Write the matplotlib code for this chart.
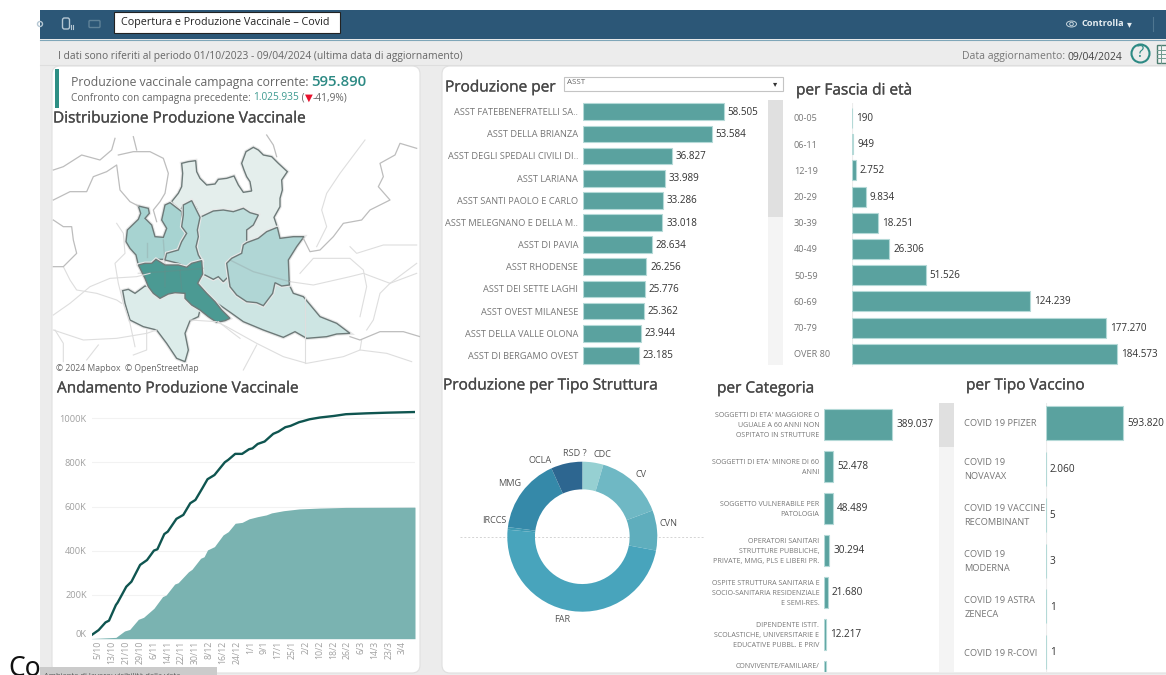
import matplotlib
matplotlib.use("Agg")
import matplotlib.pyplot as plt
import matplotlib.patheffects as pe
from matplotlib.patches import Rectangle, FancyBboxPatch, Polygon, Circle, Ellipse
from matplotlib.transforms import Bbox

plt.rcParams['font.family'] = ['Open Sans', 'DejaVu Sans']

# ---------------- data ----------------
asst_names = ["ASST FATEBENEFRATELLI SA..", "ASST DELLA BRIANZA", "ASST DEGLI SPEDALI CIVILI DI..",
              "ASST LARIANA", "ASST SANTI PAOLO E CARLO", "ASST MELEGNANO E DELLA M..",
              "ASST DI PAVIA", "ASST RHODENSE", "ASST DEI SETTE LAGHI",
              "ASST OVEST MILANESE", "ASST DELLA VALLE OLONA", "ASST DI BERGAMO OVEST"]
asst_values = [58505, 53584, 36827, 33989, 33286, 33018, 28634, 26256, 25776, 25362, 23944, 23185]

age_names = ["00-05", "06-11", "12-19", "20-29", "30-39", "40-49", "50-59", "60-69", "70-79", "OVER 80"]
age_values = [190, 949, 2752, 9834, 18251, 26306, 51526, 124239, 177270, 184573]

cat_names = ["SOGGETTI DI ETA' MAGGIORE O\nUGUALE A 60 ANNI NON\nOSPITATO IN STRUTTURE",
             "SOGGETTI DI ETA' MINORE DI 60\nANNI",
             "SOGGETTO VULNERABILE PER\nPATOLOGIA",
             "OPERATORI SANITARI\nSTRUTTURE PUBBLICHE,\nPRIVATE, MMG, PLS E LIBERI PR.",
             "OSPITE STRUTTURA SANITARIA E\nSOCIO-SANITARIA RESIDENZIALE\nE SEMI-RES.",
             "DIPENDENTE ISTIT.\nSCOLASTICHE, UNIVERSITARIE E\nEDUCATIVE PUBBL. E PRIV",
             "CONVIVENTE/FAMILIARE/"]
cat_values = [389037, 52478, 48489, 30294, 21680, 12217, 11000]

vax_names = ["COVID 19 PFIZER", "COVID 19\nNOVAVAX", "COVID 19 VACCINE\nRECOMBINANT",
             "COVID 19\nMODERNA", "COVID 19 ASTRA\nZENECA", "COVID 19 R-COVI"]
vax_values = [593820, 2060, 5, 3, 1, 1]

donut_names = ["CDC", "CV", "CVN", "FAR", "IRCCS", "MMG", "OCLA", "RSD", "?"]
donut_values = [27000, 88000, 51500, 289000, 3300, 96500, 39800, 300, 100]
donut_colors = ["#96d0d2", "#6fb8c4", "#5faebd", "#48a4bc", "#3f9ab3", "#3589a9", "#2d6690", "#285c84", "#1f5a80"]

# cumulative series: day position on the axis, thousands of doses
prev_days = [0, 4, 8, 10, 14, 15, 20, 23, 28, 32, 36, 38, 42, 44, 49, 53, 57, 60, 64, 67, 71, 77, 79,
             83, 87, 91, 93, 96, 100, 105, 108, 112, 115, 120, 122, 126, 132, 140, 147, 159, 171, 187]
prev_values = [17, 39, 74, 82, 153, 164, 236, 259, 335, 357, 400, 406, 475, 486, 544, 562, 615, 630, 683,
               724, 743, 801, 812, 839, 839, 860, 864, 884, 895, 930, 940, 960, 966, 983, 987, 996, 1004,
               1011, 1019, 1023, 1026, 1029]
curr_days = [0, 14, 19, 22, 27, 30, 36, 41, 43, 48, 50, 56, 58, 63, 65, 67, 71, 76, 79, 83, 87, 91, 96,
             101, 104, 111, 120, 132, 147, 187]
curr_values = [1, 6, 35, 42, 88, 97, 138, 191, 198, 248, 254, 304, 315, 365, 372, 403, 418, 471, 486, 524,
               528, 544, 554, 562, 571, 581, 589, 593, 596, 597]
date_labels = ["5/10", "13/10", "21/10", "29/10", "6/11", "14/11", "22/11", "30/11", "8/12", "16/12", "24/12",
               "1/1", "9/1", "17/1", "25/1", "2/2", "10/2", "18/2", "26/2", "6/3", "14/3", "23/3", "3/4"]
value_ticks = [0, 200, 400, 600, 800, 1000]

# map shapes (crop coordinates of the map frame)
map_regions = {
    "sondrio": ("#e4eeec", [(365,215),(385,190),(395,170),(398,130),(395,100),(415,95),(437,92),(440,125),(450,145),(470,165),(495,162),(505,148),(530,145),(552,138),(565,165),(580,187),(605,183),(600,155),(590,140),(582,120),(575,100),(588,65),(610,52),(625,60),(640,75),(665,80),(685,100),(712,125),(695,150),(697,180),(690,205),(690,230),(672,262),(682,292),(650,305),(625,325),(590,338),(590,300),(610,285),(625,255),(600,248),(580,235),(550,245),(520,240),(490,243),(450,262),(440,235),(425,212),(400,225),(392,240),(370,222)]),
    "pavia": ("#dcecea", [(218,482),(235,478),(255,490),(285,468),(295,470),(310,490),(330,505),(355,492),(375,488),(405,490),(405,505),(425,525),(450,540),(445,560),(420,572),(405,610),(415,660),(405,695),(380,685),(350,640),(320,600),(280,590),(240,570),(225,520)]),
    "cremona": ("#cde5e3", [(458,432),(465,435),(490,448),(505,440),(520,455),(535,440),(540,470),(560,495),(590,515),(620,518),(640,527),(668,490),(675,458),(695,468),(718,465),(730,490),(760,500),(810,560),(860,580),(900,610),(860,612),(830,620),(770,625),(735,605),(700,622),(640,600),(580,575),(545,550),(495,515),(470,490),(443,460)]),
    "bergamo": ("#bfdedc", [(450,262),(490,243),(520,240),(550,245),(580,235),(600,248),(625,255),(610,285),(590,300),(590,338),(580,345),(575,370),(545,385),(530,400),(535,440),(520,455),(505,440),(490,448),(465,435),(458,432),(455,392),(445,375),(438,350),(445,320),(442,300)]),
    "brescia": ("#b0d6d5", [(590,338),(625,325),(650,305),(682,292),(690,325),(730,320),(762,320),(740,350),(715,390),(718,465),(695,468),(675,458),(668,490),(640,527),(620,518),(590,515),(560,495),(540,470),(530,400),(545,385),(575,370),(580,345)]),
    "varese": ("#a7d3d1", [(265,228),(295,235),(298,250),(285,265),(305,285),(315,320),(340,322),(350,295),(335,270),(345,225),(360,218),(395,245),(395,290),(410,310),(395,335),(385,360),(350,370),(345,388),(320,388),(305,400),(265,405),(258,375),(240,355),(228,335),(232,300),(265,268),(272,250)]),
    "lecco": ("#b0d8d6", [(400,225),(425,212),(450,262),(442,300),(445,320),(438,350),(445,375),(455,392),(425,400),(410,412),(385,400),(345,390),(350,370),(385,360),(395,335),(410,310),(395,290),(400,255)]),
    "milano": ("#4b9a93", [(265,405),(285,400),(305,400),(318,388),(345,405),(385,405),(410,412),(425,400),(455,392),(458,432),(443,460),(470,490),(495,515),(515,540),(540,565),(525,572),(500,577),(475,560),(450,540),(425,525),(405,505),(405,490),(375,488),(355,492),(330,505),(310,490),(295,470),(285,445)]),
}
map_borders = [
    [(10,120),(40,110),(95,75),(150,90),(185,60),(195,25)],
    [(10,210),(30,200),(60,185),(110,185),(130,140),(170,125),(200,105),(210,180),(240,215),(265,228)],
    [(205,75),(250,65),(300,65),(340,85),(355,130),(345,190),(330,215),(310,240),(320,275)],
    [(10,270),(40,290),(65,290),(70,330),(80,370),(40,410),(10,410)],
    [(250,20),(260,60)], [(650,15),(670,45),(680,80)],
    [(1100,55),(1050,40),(1035,75),(990,100),(1000,140),(985,170),(1020,210),(960,240),(935,270),(880,280),(850,320),(810,360),(780,365),(760,325)],
    [(900,620),(930,630),(990,605),(1060,605),(1110,620)],
]
map_roads = [
    [(945,30),(900,90),(870,130),(830,190),(815,240),(830,290),(800,350)],
    [(10,555),(60,520),(120,470),(180,445),(260,440),(300,430)],
    [(200,280),(220,310),(225,370),(195,400),(205,460),(220,520),(240,580),(255,650)],
    [(40,410),(60,450),(80,480),(140,490),(200,510),(215,520)],
    [(10,600),(100,630),(200,625),(290,610),(320,600)],
    [(15,600),(40,640),(40,695)], [(145,645),(110,690)], [(290,600),(290,660),(250,675)],
    [(420,570),(500,575),(530,590),(620,640),(700,680),(770,700),(880,680),(930,660),(935,630)],
    [(620,645),(580,720)], [(765,500),(765,700)], [(930,660),(1010,670),(1085,695)],
    [(720,455),(790,465),(900,440),(940,430),(1020,460),(1100,430)],
    [(750,430),(790,385),(900,385),(940,420),(950,470),(930,560)],
    [(900,350),(920,370),(1000,345),(1100,345)],
    [(1020,460),(990,490),(970,570),(950,600)],
    [(1100,400),(1060,430),(1020,460)], [(505,575),(550,610),(570,625)],
]
map_inner_roads = [
    [(290,340),(290,380)], [(340,330),(345,400),(345,470)], [(390,420),(395,480)],
    [(265,430),(340,425),(460,415)], [(540,390),(610,425),(720,455)],
]

# ---------------- layout helpers ----------------
W, H = 1166, 675
fig = plt.figure(figsize=(W / 100, H / 100), dpi=100, facecolor="white")
PT = 0.72  # points per pixel at 100 dpi


def axpx(x0, y0, x1, y1, **kw):
    ax = fig.add_axes([x0 / W, 1 - y1 / H, (x1 - x0) / W, (y1 - y0) / H], **kw)
    ax.patch.set_alpha(0)
    return ax


def fmt(v):
    return f"{v:,}".replace(",", ".")


bg = axpx(0, 0, W, H, zorder=0)
bg.set_xlim(0, W)
bg.set_ylim(H, 0)
bg.axis("off")


def runs(x, y, parts):
    r = fig.canvas.get_renderer()
    for s, kw in parts:
        t = bg.text(x, y, s, va="center", ha="left", **kw)
        x += t.get_window_extent(r).width


# page
bg.add_patch(Rectangle((40, 39), W - 40, H - 39, fc="#ececec", ec="none"))
bg.add_patch(Rectangle((40, 10), W - 40, 29, fc="#2c5777", ec="none"))
bg.plot([40, W], [39.5, 39.5], color="#7fa6b8", lw=0.8)
bg.plot([40, W], [65, 65], color="#dedede", lw=0.8)
for x0, x1 in [(52, 420), (442, W + 20)]:
    bg.add_patch(FancyBboxPatch((x0 + 8, 66 + 8), x1 - x0 - 16, 607 - 16,
                                boxstyle="round,pad=8,rounding_size=8", fc="white", ec="#e0e0e0", lw=0.8))

# header
bg.add_patch(Rectangle((114, 12), 226, 21, fc="white", ec="#222222", lw=0.8, zorder=3))
bg.text(121, 22.5, "Copertura e Produzione Vaccinale – Covid", fontsize=7.75, color="#222222", va="center", zorder=4)
bg.add_patch(FancyBboxPatch((63.5, 19), 5, 9, boxstyle="round,pad=1,rounding_size=2", fc="none", ec="#b5c7d3", lw=1))
bg.plot([71, 71], [25, 29], color="#b5c7d3", lw=0.8)
bg.plot([73, 73], [25, 29], color="#b5c7d3", lw=0.8)
bg.add_patch(FancyBboxPatch((90, 21.5), 9, 5, boxstyle="round,pad=1", fc="none", ec="#5f8298", lw=1))
bg.add_patch(Circle((40, 24), 2.5, fc="none", ec="#b5c7d3", lw=1))
bg.add_patch(Ellipse((1071.5, 24), 10, 6, fc="none", ec="#c4d3dc", lw=0.7))
bg.add_patch(Circle((1071.5, 24), 1.8, fc="none", ec="#c4d3dc", lw=0.7))
bg.text(1081, 24, "Controlla", fontsize=6.6, color="#e6edf1", weight="bold", va="center")
bg.text(1129, 24, "▾", fontsize=7, color="#e6edf1", ha="center", va="center", family="DejaVu Sans")
bg.plot([1153, 1153], [17, 31], color="#4f7690", lw=0.8)

bg.text(58, 56, "I dati sono riferiti al periodo 01/10/2023 - 09/04/2024 (ultima data di aggiornamento)",
        fontsize=7.43, color="#666666", va="center")
runs(962, 57, [("Data aggiornamento: ", dict(fontsize=7.5, color="#777777")),
               ("09/04/2024", dict(fontsize=7.5, color="#444444"))])
bg.add_patch(Circle((1140.5, 53.5), 9, fc="none", ec="#2d8a84", lw=1.5))
bg.text(1140.5, 53, "?", fontsize=12, color="#2d8a84", ha="center", va="center")
bg.add_patch(Rectangle((1157, 45), 12, 18, fc="#f4f4f4", ec="#4d7d70", lw=1))
for yy in (50, 54, 58):
    bg.plot([1157, 1166], [yy, yy], color="#6f9a8f", lw=0.7)
bg.plot([1161, 1161], [45, 63], color="#6f9a8f", lw=0.7)

# KPI
bg.add_patch(Rectangle((54.7, 69.3), 4.6, 39, fc="#2d8f84", ec="none"))
runs(71, 82.5, [("Produzione vaccinale campagna corrente: ", dict(fontsize=8.8, color="#666666")),
                ("595.890", dict(fontsize=10.8, color="#2d8a84", weight="semibold"))])
runs(71, 98, [("Confronto con campagna precedente: ", dict(fontsize=7.3, color="#666666")),
              ("1.025.935", dict(fontsize=7.3, color="#3d9a90")),
              (" (", dict(fontsize=7.3, color="#666666")),
              ("▼", dict(fontsize=7.3, color="#e8112d", family="DejaVu Sans")),
              ("-41,9%)", dict(fontsize=7.3, color="#666666"))])

# titles
for x, y, s in [(53, 119, "Distribuzione Produzione Vaccinale"),
                (57, 389, "Andamento Produzione Vaccinale"),
                (445, 88, "Produzione per"),
                (796, 91, "per Fascia di età"),
                (443, 386, "Produzione per Tipo Struttura"),
                (717, 389, "per Categoria"),
                (966, 386, "per Tipo Vaccino")]:
    bg.text(x, y, s, fontsize=11.1, color="#484848", va="center",
            path_effects=[pe.withStroke(linewidth=0.2, foreground="#484848")])

# dropdown
bg.add_patch(Rectangle((564, 76.5), 219, 14, fc="white", ec="#c4c4c4", lw=0.8))
bg.text(567, 83, "ASST", fontsize=5.8, color="#666666", va="center")
bg.text(775, 83.5, "▾", fontsize=6, color="#333333", ha="center", va="center", family="DejaVu Sans")

# scrollbars
for x0, x1, y0, y1, yt in [(768.3, 782.7, 100, 365, 217), (939.3, 954, 403.3, 671.7, 446.7)]:
    bg.add_patch(Rectangle((x0, y0), x1 - x0, y1 - y0, fc="#f4f4f4", ec="none"))
    bg.add_patch(Rectangle((x0, y0), x1 - x0, yt - y0, fc="#e0e0e0", ec="none"))

# bottom-left leftovers
bg.add_patch(Rectangle((40, 667), 177, 8, fc="#cbcbcb", ec="none", zorder=5))
bg.text(8, 676, "Co", fontsize=19, color="#111111", va="baseline", zorder=6, family="Noto Sans")
bg.text(44, 677, "Ambiente di lavoro: visibilità della vista", fontsize=5.5, color="#555555",
        va="center", zorder=6, clip_on=True)

# ---------------- map ----------------
mp = axpx(50, 130, 420, 380, zorder=1)
mp.set_xlim(0, 1110)
mp.set_ylim(750, 0)
mp.axis("off")
for pts in map_roads:
    mp.plot(*zip(*pts), color="#dedede", lw=0.8, solid_joinstyle="round")
for pts in map_borders:
    mp.plot(*zip(*pts), color="#bdbdbd", lw=0.9, solid_joinstyle="round")
for name, (col, pts) in map_regions.items():
    mp.add_patch(Polygon(pts, closed=True, fc=col, ec="#6d7a79", lw=1,
                         path_effects=[pe.withStroke(linewidth=2.6, foreground="#e8e8e8")]))
for pts in map_inner_roads:
    mp.plot(*zip(*pts), color="#808080", alpha=0.22, lw=1)
mp.text(18, 716, "© 2024 Mapbox  © OpenStreetMap", fontsize=6.2, color="#666666", va="center",
        bbox=dict(fc="white", ec="none", alpha=0.8, pad=1))

# ---------------- cumulative chart ----------------
ac = axpx(91.7, 405, 415, 638.7, zorder=1)
ac.fill_between(curr_days, curr_values, color="#7ab3b1", lw=0)
ac.plot(prev_days, prev_values, color="#0f5550", lw=1.7, solid_joinstyle="round")
ac.set_xlim(0, 187)
ac.set_ylim(0, 233.7 / 0.2203)
ac.set_yticks(value_ticks)
ac.set_yticklabels([f"{v}K" for v in value_ticks], fontsize=6.7, color="#a0a0a0")
ac.get_yticklabels()[0].set_va("bottom")
ac.set_xticks([3.85 + 8 * i for i in range(len(date_labels))])
ac.set_xticklabels(date_labels, rotation=90, fontsize=6.3, color="#a0a0a0")
ac.tick_params(length=0, pad=3.6)
ac.tick_params(axis="x", pad=1.5)
ac.grid(axis="y", color="#f2f2f2", lw=0.8)
ac.set_axisbelow(True)
for s in ac.spines.values():
    s.set_visible(False)

# ---------------- bar charts ----------------
BAR = "#5aa29f"
EDGE = "#b4d9d7"


def bars(x0, x1, y_first, step, ytop, ybot, px_per_unit, names, values, bar_px,
         label_x, label_right, label_fs, value_fs, baseline=False, linespacing=1.1, clip=None):
    ax = axpx(x0, ytop, x1, ybot, zorder=1)
    ax.barh(range(len(values)), values, height=bar_px / step, color=BAR, edgecolor=EDGE, lw=0.8)
    ax.set_xlim(0, (x1 - x0) / px_per_unit)
    ax.set_ylim((ybot - y_first) / step, (ytop - y_first) / step)
    ax.set_xticks([])
    ax.set_yticks([])
    for s in ax.spines.values():
        s.set_visible(False)
    if baseline:
        ax.axvline(0, color="#ececec", lw=0.8, zorder=0)
    labels = []
    for i, (n, v) in enumerate(zip(names, values)):
        an = ax.annotate(n, xy=(0, i), xytext=((label_x - x0) * PT, -0.7),
                         textcoords="offset points", ha="right" if label_right else "left",
                         va="center", ma="right" if label_right else "left", fontsize=label_fs,
                         color="#777777", annotation_clip=False, linespacing=linespacing)
        if clip is not None:
            an.set_clip_on(True)
            an.set_clip_box(clip)
        labels.append(an)
        if (ytop - y_first) / step <= i <= (ybot - y_first) / step:
            ax.annotate(fmt(v), xy=(v, i), xytext=(4 * PT, -0.4), textcoords="offset points",
                        va="center", ha="left", fontsize=value_fs, color="#333333")
    return labels


bars(583, 768, 111.7, 22.15, 100, 366, 140.6 / 58505, asst_names, asst_values, 16.7,
     578, True, 6.65, 7.1)
bars(851.7, 1166, 118, 26.2, 103, 367, 265 / 184573, age_names, age_values, 20,
     794, False, 6.6, 7.1, baseline=True)
cat_labels = bars(824, 938, 424.3, 42, 403, 672, 68.3 / 389037, cat_names, cat_values, 31,
                  819.3, True, 5.1, 7.2, linespacing=1.62, clip=Bbox([[711, 3], [W, H]]))
cat_labels[-1].xyann = (cat_labels[-1].xyann[0], 9.3 * PT)
bars(1045.7, 1166, 422.7, 45.94, 403, 672, 77.7 / 593820, vax_names, vax_values, 34,
     964.3, False, 6.65, 7.2, baseline=True, linespacing=1.7)

# ---------------- donut ----------------
bg.plot([460, 705], [536.7, 536.7], color="#d4d4d4", lw=0.7, ls=(0, (2, 2)))
r_px = 75
cx, cy = 582.3, 536.7
ad = axpx(cx - 1.2 * r_px, cy - 1.2 * r_px, cx + 1.2 * r_px, cy + 1.2 * r_px, zorder=1)
ad.pie(donut_values, colors=donut_colors, startangle=90, counterclock=False, radius=1,
       wedgeprops=dict(width=83 / 225, lw=0))
ad.set_xlim(-1.2, 1.2)
ad.set_ylim(-1.2, 1.2)
for name, x, y in [("CDC", 602.7, 454.3), ("CV", 641, 474.3), ("CVN", 668.3, 523.7), ("FAR", 562.3, 619.3),
                   ("IRCCS", 494, 520.7), ("MMG", 509.3, 483.3), ("OCLA", 539.7, 460.7)]:
    bg.text(x, y, name, fontsize=6.6, color="#555555", ha="center", va="center", zorder=2)
bg.text(575, 453.7, "RSD ?", fontsize=6.6, color="#555555", ha="center", va="center", zorder=2)

fig.savefig("out.png", dpi=100)
